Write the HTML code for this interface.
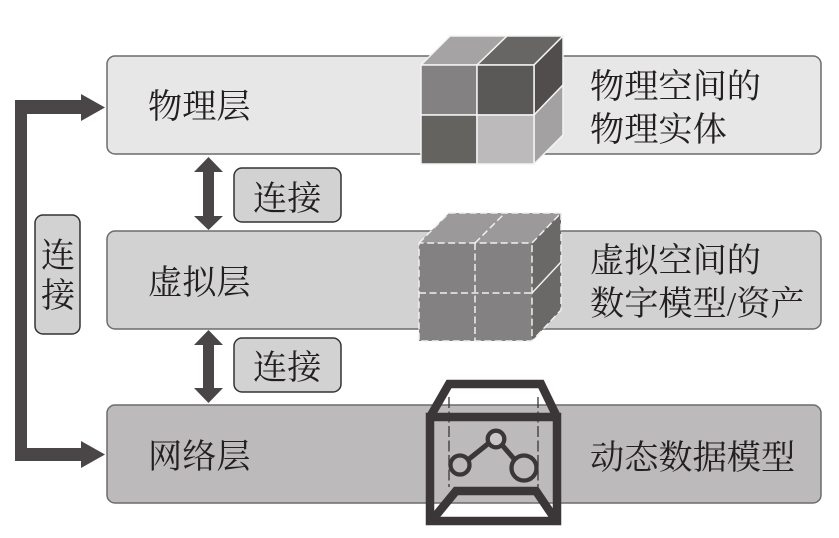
<!DOCTYPE html>
<html><head><meta charset="utf-8"><style>
html,body{margin:0;padding:0;background:#fff}
svg{display:block}
text{font-family:"Liberation Serif","Noto Serif CJK SC",serif;fill:#231f20;font-size:34.2px}
</style></head><body>
<svg width="839" height="538" viewBox="0 0 839 538" xmlns="http://www.w3.org/2000/svg">
<rect x="107" y="56" width="714" height="98" rx="8" fill="#e7e7e7" stroke="#6d6b6b" stroke-width="1.5"/>
<rect x="107" y="231" width="714" height="98" rx="8" fill="#d2d2d2" stroke="#6d6b6b" stroke-width="1.5"/>
<rect x="107" y="405" width="714" height="98" rx="8" fill="#bcbaba" stroke="#6d6b6b" stroke-width="1.5"/>

<!-- left arrow -->
<path d="M81 100V94L105 107.500L81 121V114H27V448H81V441L105 454.500L81 468V461H15V100Z" fill="#4a4647"/>
<rect x="35" y="215" width="45" height="119" rx="8" fill="#d2d2d2" stroke="#333" stroke-width="1.5"/>
<text x="41" y="267">连</text>
<text x="41" y="307">接</text>

<!-- vertical arrows -->
<path d="M208.500 157L223 172H214V216H223L208.500 230L194 216H203V172H194Z" fill="#4a4647"/>
<path d="M208.500 330L223 345H214V388H223L208.500 403L194 388H203V345H194Z" fill="#4a4647"/>
<rect x="234" y="168" width="107" height="54" rx="8" fill="#d2d2d2" stroke="#333" stroke-width="1.5"/>
<rect x="234" y="338" width="107" height="54" rx="8" fill="#d2d2d2" stroke="#333" stroke-width="1.5"/>
<text x="253" y="210">连接</text>
<text x="253" y="379">连接</text>

<!-- labels -->
<text x="148" y="118">物理层</text>
<text x="148" y="294">虚拟层</text>
<text x="148" y="468">网络层</text>
<text x="590" y="98">物理空间的</text>
<text x="590" y="141">物理实体</text>
<text x="590" y="272">虚拟空间的</text>
<text x="590" y="315">数字模型/资产</text>
<text x="590" y="469">动态数据模型</text>

<!-- solid cube -->
<g stroke="#f4f4f4" stroke-width="1.500" stroke-linejoin="round">
<path d="M421 65L450 36H507L477 65Z" fill="#a5a3a3"/>
<path d="M477 65L507 36H563L534 65Z" fill="#686565"/>
<path d="M534 65L563 36V85L534 115Z" fill="#514d4d"/>
<path d="M534 115L563 85V135L534 164Z" fill="#a3a1a1"/>
<rect x="421" y="65" width="56" height="50" fill="#838181"/>
<rect x="477" y="65" width="57" height="50" fill="#5b5858"/>
<rect x="421" y="115" width="56" height="49" fill="#656360"/>
<rect x="477" y="115" width="57" height="49" fill="#bcbaba"/>
</g>

<!-- dashed cube -->
<path d="M419 243L449 213H561L532 243Z" fill="#9b9999"/>
<path d="M532 243L561 213V310L532 341Z" fill="#6b6868"/>
<rect x="419" y="243" width="113" height="98" fill="#838181"/>
<g fill="none" stroke="#f0f0f0" stroke-width="1.500" stroke-dasharray="7 3.500">
<path d="M419 243L449 213H561L532 243H419V341H532V243"/>
<path d="M561 213V310L532 341"/>
<path d="M475 243L505 213"/>
<path d="M475 243V341"/>
<path d="M419 293H532"/>
</g>
<path d="M532 293L561 262" stroke="#f0f0f0" stroke-width="1.500" fill="none"/>

<!-- network box icon -->
<g fill="none" stroke="#3b3738">
<path d="M449 397V487M538 397V487" stroke-width="1.300" stroke-dasharray="11 3.500"/>
<path d="M430 417H557V521H430Z" stroke-width="8.500"/>
<path d="M430 417L449 384H541L557 417" stroke-width="8.500" stroke-linejoin="miter"/>
<path d="M433 519L456 491H536L555 519" stroke-width="8.500"/>
<path d="M469 459L489 443M502 445L515 460" stroke-width="5"/>
<circle cx="460" cy="465" r="9.500" stroke-width="4.300"/>
<circle cx="496" cy="439" r="8.300" stroke-width="4.300" fill="#c9c8c8"/>
<circle cx="524" cy="468" r="12.500" stroke-width="4.300"/>
</g>
</svg>
</body></html>
